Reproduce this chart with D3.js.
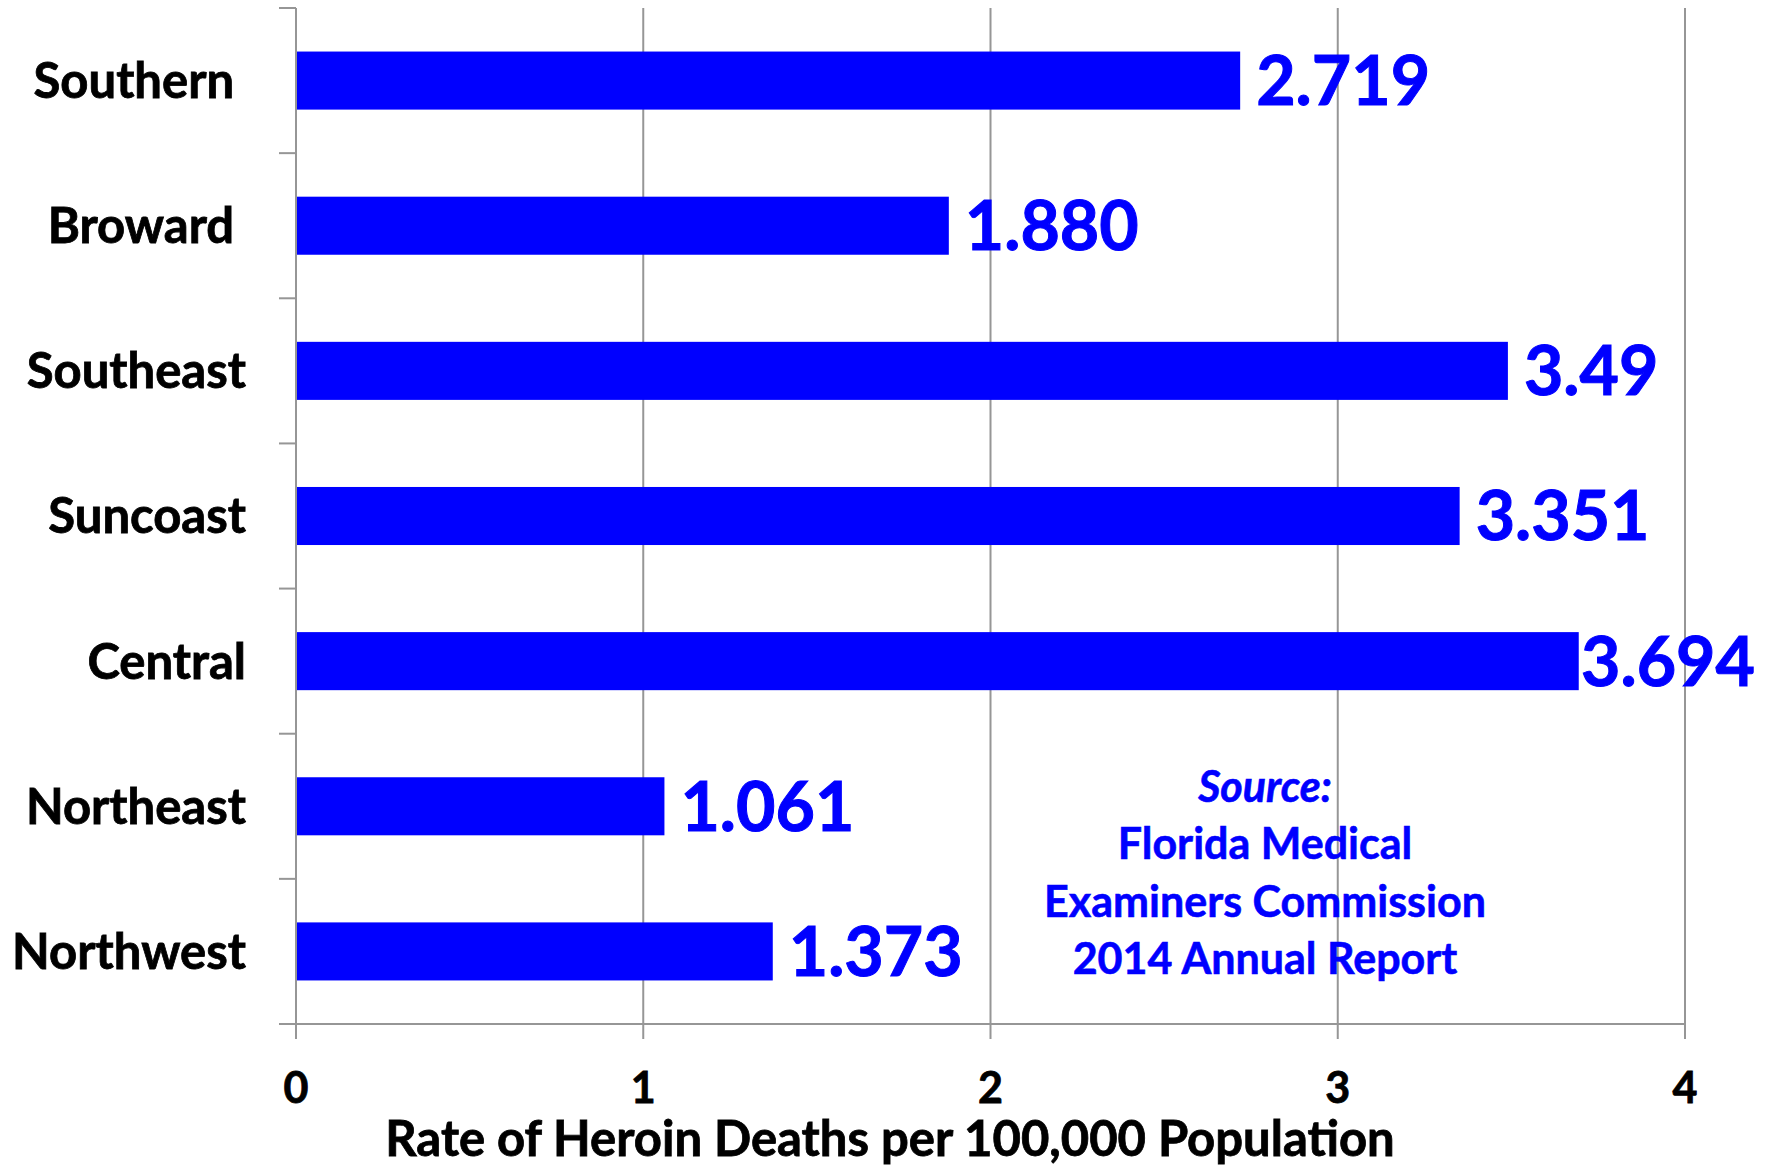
<!DOCTYPE html>
<html>
<head>
<meta charset="utf-8">
<script src="https://cdn.jsdelivr.net/npm/d3@7"></script>
<style>
  html, body { margin: 0; padding: 0; background: #ffffff; }
  svg { display: block; }
  text { font-family: Lato, "Open Sans", "DejaVu Sans", sans-serif; font-weight: bold; }
</style>
</head>
<body>
<svg id="chart" width="1770" height="1168"></svg>
<script>
// ---- data ----
const categories = ["Southern ", "Broward ", "Southeast", "Suncoast", "Central", "Northeast", "Northwest"];
const values = [2.719, 1.880, 3.49, 3.351, 3.694, 1.061, 1.373];
const valueLabels = ["2.719", "1.880", "3.49", "3.351", "3.694", "1.061", "1.373"];
const xTicks = [0, 1, 2, 3, 4];
const xTitle = "Rate of Heroin Deaths per 100,000 Population";
const sourceLines = ["Source:", "Florida Medical", "Examiners Commission", "2014 Annual Report"];

(function () {
  // ---- layout ----
  const W = 1770, H = 1168;
  const pLeft = 296, pRight = 1685, pTop = 8, pBottom = 1024;
  const blue = "#0000FF", grid = "#969696";

  const svg = d3.select("#chart");

  const x = d3.scaleLinear().domain([0, 4]).range([pLeft, pRight]);
  const y = d3.scaleBand().domain(categories).range([pTop, pBottom]).paddingInner(0.6).paddingOuter(0.3);

  // gridlines
  svg.append("g").selectAll("line").data(xTicks.filter(d => d > 0)).join("line")
    .attr("x1", d => x(d)).attr("x2", d => x(d))
    .attr("y1", pTop).attr("y2", pBottom + 15)
    .attr("stroke", grid).attr("stroke-width", 2);

  // x axis line + value axis at 0
  svg.append("line").attr("x1", pLeft - 17).attr("x2", pRight).attr("y1", pBottom).attr("y2", pBottom)
    .attr("stroke", grid).attr("stroke-width", 2);
  svg.append("line").attr("x1", x(0)).attr("x2", x(0)).attr("y1", pTop).attr("y2", pBottom + 15)
    .attr("stroke", grid).attr("stroke-width", 2);

  // category tick marks at band boundaries
  const step = y.step();
  const bounds = d3.range(categories.length + 1).map(i => pTop + i * step);
  svg.append("g").selectAll("line").data(bounds).join("line")
    .attr("x1", pLeft - 17).attr("x2", pLeft).attr("y1", d => d).attr("y2", d => d)
    .attr("stroke", grid).attr("stroke-width", 2);

  // x tick labels
  svg.append("g").selectAll("text").data(xTicks).join("text")
    .attr("x", d => x(d)).attr("y", 1103)
    .attr("text-anchor", "middle").attr("font-size", 43).attr("fill", "#000")
    .attr("stroke", "#000").attr("stroke-width", 0.8)
    .text(d => d);

  // bars
  const rows = categories.map((c, i) => ({ c, v: values[i], lab: valueLabels[i] }));
  svg.append("g").selectAll("rect").data(rows).join("rect")
    .attr("x", x(0) + 1).attr("y", d => y(d.c))
    .attr("width", d => x(d.v) - x(0) - 1).attr("height", y.bandwidth())
    .attr("fill", blue);

  // category labels
  const catFs = 49;
  svg.append("g").selectAll("text").data(rows).join("text")
    .attr("x", 246).attr("y", d => y(d.c) + y.bandwidth() / 2 + catFs * 0.355)
    .attr("text-anchor", "end").attr("font-size", catFs).attr("fill", "#000")
    .attr("stroke", "#000").attr("stroke-width", 0.8)
    .style("white-space", "pre")
    .text(d => d.c);

  // value labels
  const valFs = 68;
  svg.append("g").selectAll("text").data(rows).join("text")
    .attr("x", d => x(d.v) + 16).attr("y", d => y(d.c) + y.bandwidth() / 2 + valFs * 0.36)
    .attr("font-size", valFs).attr("fill", blue)
    .attr("stroke", blue).attr("stroke-width", 1)
    .text(d => d.lab)
    .each(function () {
      const bb = this.getBBox();
      if (bb.x + bb.width > W - 15) d3.select(this).attr("x", W - 15 - bb.width);
    });

  // axis title
  svg.append("text").attr("x", 890).attr("y", 1156).attr("text-anchor", "middle")
    .attr("font-size", 49).attr("fill", "#000")
    .attr("stroke", "#000").attr("stroke-width", 0.8)
    .text(xTitle);

  // source note
  svg.append("g").selectAll("text").data(sourceLines).join("text")
    .attr("x", 1265).attr("y", (d, i) => 802 + i * 57.3)
    .attr("text-anchor", "middle").attr("font-size", 43).attr("fill", blue)
    .attr("stroke", blue).attr("stroke-width", 0.6)
    .style("font-style", (d, i) => i === 0 ? "italic" : "normal")
    .text(d => d);
})();
</script>
</body>
</html>
